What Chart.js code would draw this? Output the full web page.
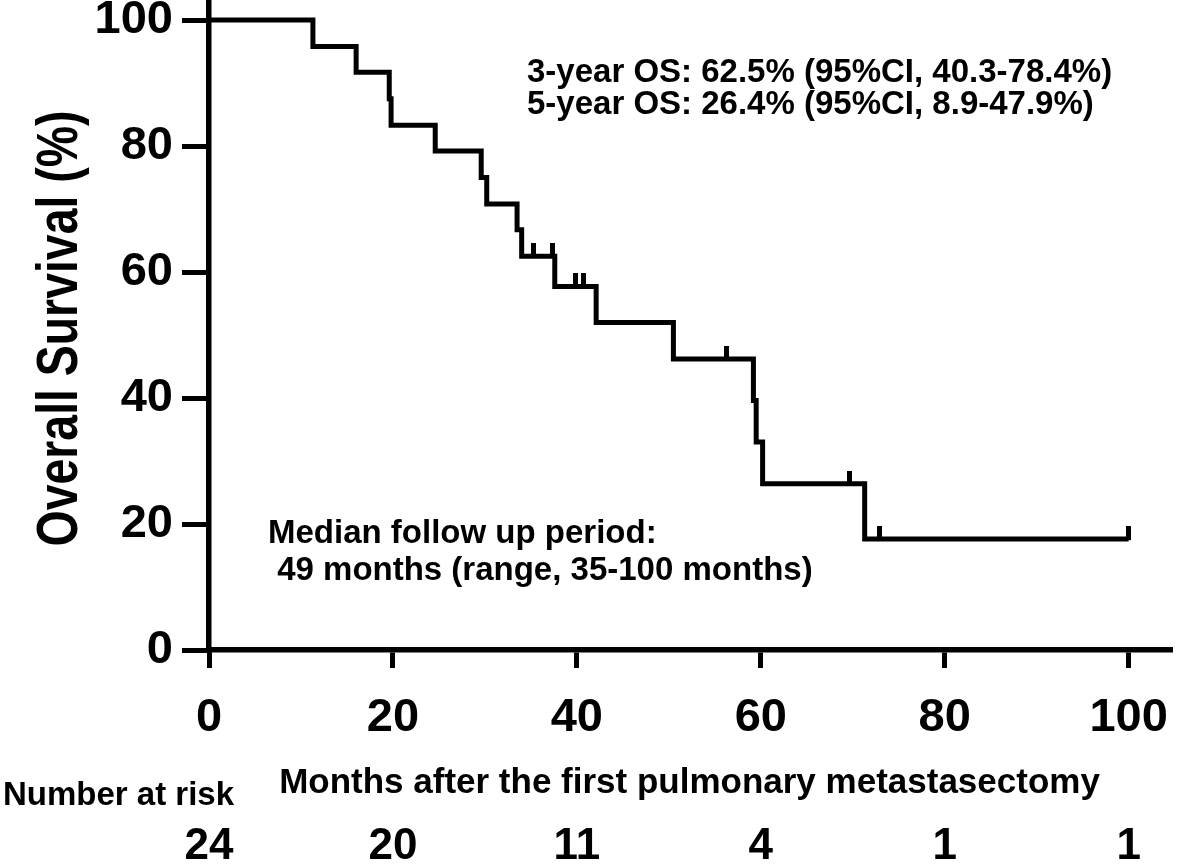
<!DOCTYPE html>
<html lang="en">
<head>
<meta charset="utf-8" />
<title>Overall survival after the first pulmonary metastasectomy</title>
<script src="https://cdn.jsdelivr.net/npm/chart.js@4.4.1/dist/chart.umd.min.js"></script>
<style>
  html, body { margin: 0; padding: 0; background: #fff; }
</style>
</head>
<body>
<canvas id="km" width="1179" height="864"></canvas>
<script>
// Kaplan-Meier steps (months, % surviving)
const eventMonths = [0, 11.3, 16.0, 19.6, 19.8, 24.6, 29.6, 30.2, 33.5, 34.0, 37.6, 42.1, 50.5, 59.2, 59.5, 60.2, 71.3, 100];
const survivalPct = [100, 95.8, 91.7, 87.5, 83.3, 79.2, 75.0, 70.8, 66.7, 62.5, 57.7, 52.0, 46.2, 39.6, 33.0, 26.4, 17.6, 17.6];
// censored cases
const censorMonths = [35.3, 37.4, 39.8, 40.7, 56.3, 69.7, 72.9, 100];
const censorPct = [62.5, 62.5, 57.7, 57.7, 46.2, 26.4, 17.6, 17.6];

const xTicks = [0, 20, 40, 60, 80, 100];
const yTicks = [0, 20, 40, 60, 80, 100];
const atRisk = [24, 20, 11, 4, 1, 1];

const yTitle = "Overall Survival (%)";
const osLines = ["3-year OS: 62.5% (95%CI, 40.3-78.4%)", "5-year OS: 26.4% (95%CI, 8.9-47.9%)"];
const followUpLines = ["Median follow up period:", " 49 months (range, 35-100 months)"];

const FONT = '"Liberation Sans", Arial, Helvetica, sans-serif';

// censor mark: short vertical bar sitting on top of the curve
const censorMark = document.createElement("canvas");
censorMark.width = 5;
censorMark.height = 26;
const cm = censorMark.getContext("2d");
cm.fillStyle = "#000";
cm.fillRect(0, 0, 5, 14);

const textPlugin = {
    id: "kmText",
    afterDraw(chart) {
        const ctx = chart.ctx;
        const { x, y } = chart.scales;
        ctx.save();
        ctx.fillStyle = "#000";

        // y title, condensed like the original
        ctx.save();
        ctx.translate(61, (y.top + y.bottom) / 2 + 2);
        ctx.rotate(-Math.PI / 2);
        ctx.scale(0.8, 1);
        ctx.font = "bold 58px " + FONT;
        ctx.textAlign = "center";
        ctx.textBaseline = "middle";
        ctx.fillText(yTitle, 0, 0);
        ctx.restore();

        ctx.textBaseline = "alphabetic";
        ctx.textAlign = "left";
        ctx.font = "bold 33px " + FONT;
        osLines.forEach((t, i) => ctx.fillText(t, 527, 82 + i * 31.5));
        followUpLines.forEach((t, i) => ctx.fillText(t, 268, 543 + i * 37));
        ctx.fillText("Number at risk", 3, 805);
        ctx.font = "bold 44px " + FONT;
        ctx.textAlign = "center";
        atRisk.forEach((n, i) => ctx.fillText(String(n), x.getPixelForValue(xTicks[i]), 859));
        ctx.restore();
    }
};

new Chart(document.getElementById("km").getContext("2d"), {
    type: "line",
    data: {
        datasets: [
            {
                label: "OS",
                data: eventMonths.map((m, i) => ({ x: m, y: survivalPct[i] })),
                stepped: true,
                borderColor: "#000",
                borderWidth: 5,
                pointRadius: 0,
                fill: false,
                clip: false
            },
            {
                label: "censored",
                data: censorMonths.map((m, i) => ({ x: m, y: censorPct[i] })),
                showLine: false,
                pointStyle: censorMark,
                pointRadius: 13,
                clip: false
            }
        ]
    },
    options: {
        responsive: false,
        animation: false,
        layout: { autoPadding: false, padding: { left: 0, right: 9, top: 3, bottom: 0 } },
        plugins: { legend: { display: false }, tooltip: { enabled: false } },
        scales: {
            x: {
                type: "linear",
                min: 0,
                max: 104.5,
                border: { display: true, color: "#000", width: 5.5 },
                grid: { display: true, drawOnChartArea: false, drawTicks: true, tickLength: 18, tickWidth: 5, tickColor: "#000", lineWidth: 5, color: "#000" },
                ticks: { color: "#000", font: { family: FONT, size: 47, weight: "bold" }, padding: 22, maxRotation: 0, autoSkip: false },
                afterBuildTicks: (s) => { s.ticks = xTicks.map((v) => ({ value: v })); },
                afterFit: (s) => { s.height = 214; s.paddingLeft = 0; s.paddingRight = 0; },
                title: {
                    display: true,
                    text: "Months after the first pulmonary metastasectomy",
                    color: "#000",
                    font: { family: FONT, size: 35, weight: "bold" },
                    padding: { top: 0, bottom: 60 }
                }
            },
            y: {
                min: 0,
                max: 102.7,
                border: { display: true, color: "#000", width: 5.5 },
                grid: { display: true, drawOnChartArea: false, drawTicks: true, tickLength: 27, tickWidth: 5, tickColor: "#000", lineWidth: 5, color: "#000" },
                ticks: { color: "#000", font: { family: FONT, size: 47, weight: "bold" }, padding: 9 },
                afterBuildTicks: (s) => { s.ticks = yTicks.map((v) => ({ value: v })); },
                afterFit: (s) => { s.width = 209; s.paddingTop = 0; s.paddingBottom = 0; }
            }
        }
    },
    plugins: [textPlugin]
});
</script>
</body>
</html>
